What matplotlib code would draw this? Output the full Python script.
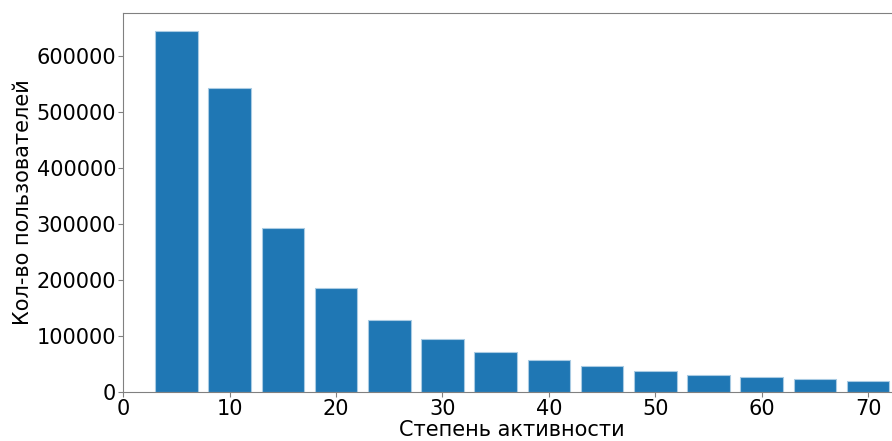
import matplotlib
matplotlib.use('Agg')
from matplotlib import pyplot as plt

# степень активности (центры корзин) и кол-во пользователей
activity = [5, 10, 15, 20, 25, 30, 35, 40, 45, 50, 55, 60, 65, 70]
users = [645000, 542000, 293000, 185000, 128000, 94000, 71000,
         57000, 46000, 36400, 30400, 25700, 22700, 19700]

plt.rcParams['font.family'] = ['DejaVu Sans']

fig = plt.figure(figsize=(8.92, 4.41), dpi=100)
# правый край осей чуть за пределами картинки, как в оригинале
ax = fig.add_axes([0.1382, 0.1118, 0.8708, 0.8594])

ax.bar(activity, users, width=4, color='#1f77b4',
       edgecolor='#a9cbe3', linewidth=0.8)

ax.set_xlim(0, 73)
ax.set_ylim(0, 677000)
ax.set_xticks(range(0, 80, 10))
ax.set_yticks(range(0, 700000, 100000))

for s in ax.spines.values():
    s.set_color('#808080')
ax.tick_params(colors='#808080', labelcolor='black', labelsize=15,
               length=3.5, pad=1.5)

ax.set_xlabel('Степень активности', fontsize=15, labelpad=1)
ax.set_ylabel('Кол-во пользователей', fontsize=15, labelpad=3)

plt.savefig('out.png')
plt.close()
